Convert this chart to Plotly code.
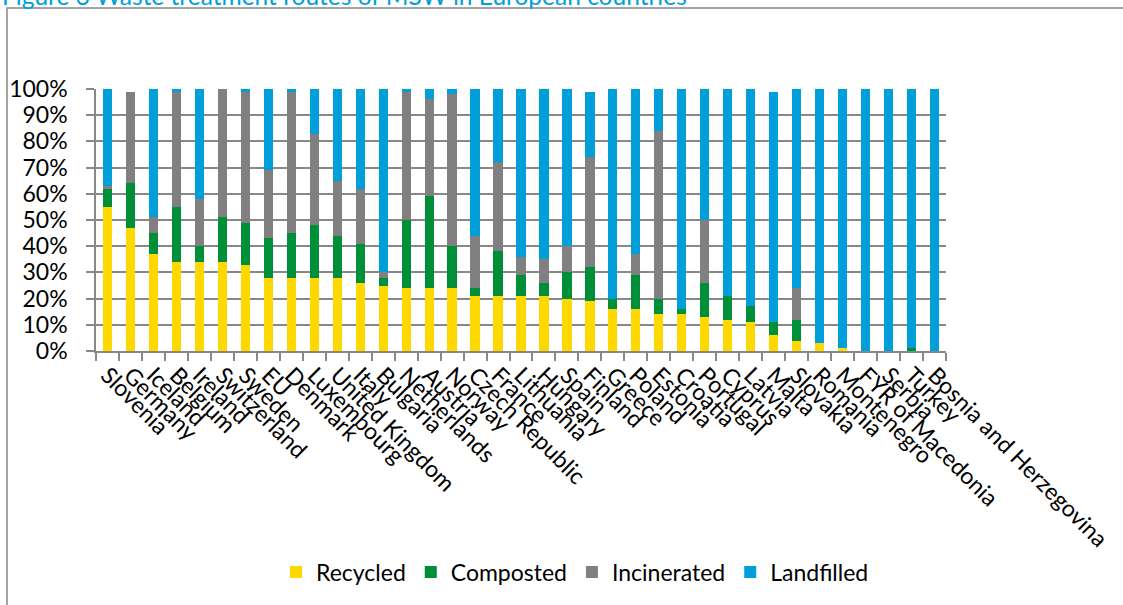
import plotly.graph_objects as go

countries = ["Slovenia", "Germany", "Iceland", "Belgium", "Ireland", "Switzerland", "Sweden", "EU",
             "Denmark", "Luxembourg", "United Kingdom", "Italy", "Bulgaria", "Netherlands", "Austria",
             "Norway", "Czech Republic", "France", "Lithuania", "Hungary", "Spain", "Finland", "Greece",
             "Poland", "Estonia", "Croatia", "Portugal", "Cyprus", "Latvia", "Malta", "Slovakia",
             "Romania", "Montenegro", "FYR of Macedonia", "Serbia", "Turkey", "Bosnia and Herzegovina"]

recycled = [55, 47, 37, 34, 34, 34, 33, 28, 28, 28, 28, 26, 25, 24, 24, 24, 21, 21, 21, 21, 20, 19, 16,
            16, 14, 14, 13, 12, 11, 6, 4, 3, 1, 0, 0, 0, 0]
composted = [7, 17, 8, 21, 6, 17, 16, 15, 17, 20, 16, 15, 3, 26, 35, 16, 3, 17, 8, 5, 10, 13, 4,
             13, 6, 2, 13, 9, 6, 5, 8, 0, 0, 0, 0, 1, 0]
incinerated = [1, 35, 6, 44, 18, 49, 50, 26, 54, 35, 21, 21, 2, 49, 37, 58, 20, 34, 7, 9, 10, 42, 0,
               8, 64, 0, 24, 0, 0, 0, 12, 0, 0, 0, 0, 0, 0]
landfilled = [37, 0, 49, 1, 42, 0, 1, 31, 1, 17, 35, 38, 70, 1, 4, 2, 56, 28, 64, 65, 60, 25, 80,
              63, 16, 84, 50, 79, 83, 88, 76, 97, 99, 100, 100, 99, 100]

series = [("Recycled", recycled, "#FFD800"),
          ("Composted", composted, "#008F39"),
          ("Incinerated", incinerated, "#808080"),
          ("Landfilled", landfilled, "#009FDA")]

FONT = "Lato"
FS = 23
fig = go.Figure()
for name, vals, col in series:
    fig.add_trace(go.Bar(x=countries, y=vals, name=name, marker_color=col,
                         marker_line_width=0))

L, R, T, B = 96, 177, 89, 254
W, H = 1123, 605
pw, ph = W - L - R, H - T - B

def px_x(x):
    return (x - L) / pw

def px_y(y):
    return (H - B - y) / ph

fig.update_layout(
    width=W, height=H,
    margin=dict(l=L, r=R, t=T, b=B, pad=0),
    barmode="stack", bargap=0.6,
    plot_bgcolor="white", paper_bgcolor="white",
    font=dict(family=FONT, size=FS, color="black"),
    showlegend=True,
    legend=dict(orientation="h", x=px_x(575), xanchor="center", y=px_y(572), yanchor="middle",
                font=dict(size=FS), traceorder="normal"),
    xaxis=dict(tickmode="array", tickvals=countries, ticktext=countries,
               tickangle=45, tickson="boundaries", ticks="outside", ticklen=8, tickwidth=1.5,
               tickcolor="#888888", showline=True, linecolor="#888888", linewidth=1.5,
               showgrid=False, tickfont=dict(size=FS), automargin=False),
    yaxis=dict(range=[0, 100], dtick=10, ticksuffix="%", ticks="outside", ticklen=8, tickwidth=1.5,
               tickcolor="#888888", showline=True, linecolor="#888888", linewidth=1.5,
               showgrid=True, gridcolor="#888888", gridwidth=1.5, zeroline=False,
               tickfont=dict(size=FS), ticklabelstandoff=14, automargin=False),
    shapes=[dict(type="rect", xref="paper", yref="paper",
                 x0=px_x(7), x1=px_x(1135), y0=px_y(615), y1=px_y(8),
                 line=dict(color="#888888", width=1.5), fillcolor="rgba(0,0,0,0)", layer="below")],
    annotations=[dict(text="Figure 3 Waste treatment routes of MSW in European countries",
                      xref="paper", yref="paper", x=px_x(0), xanchor="left",
                      y=px_y(-4), yanchor="middle", showarrow=False,
                      font=dict(family=FONT, size=24.5, color="#00A0DC"))],
)

fig.write_html("out.html", config={"displayModeBar": False},
               post_script="document.body.style.margin='0';")
